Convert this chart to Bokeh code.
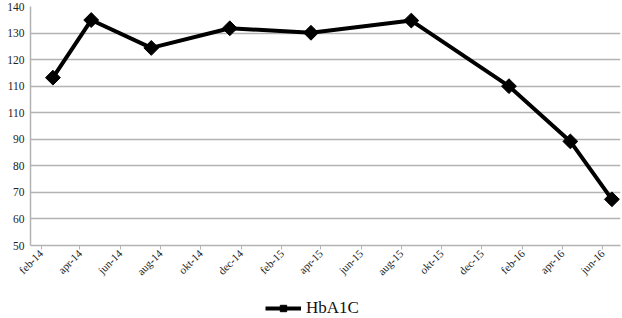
import numpy as np
import pandas as pd
from bokeh.plotting import figure
from bokeh.layouts import column
from bokeh.models import FixedTicker, Legend, LegendItem, Range1d
from bokeh.embed import file_html
from bokeh.resources import INLINE

# ---- data ----
dates = ["2014-02-19", "2014-04-18", "2014-07-18", "2014-11-14", "2015-03-17",
         "2015-08-16", "2016-01-11", "2016-04-13", "2016-06-15"]
hba1c = [113.2, 134.9, 124.4, 131.8, 130.1, 134.7, 110.0, 89.2, 67.4]
series_name = "HbA1C"

x_tick_dates = ["2014-02-01", "2014-04-01", "2014-06-01", "2014-08-01", "2014-10-01",
                "2014-12-01", "2015-02-01", "2015-04-01", "2015-06-01", "2015-08-01",
                "2015-10-01", "2015-12-01", "2016-02-01", "2016-04-01", "2016-06-01"]
x_tick_labels = ["feb-14", "apr-14", "jun-14", "aug-14", "okt-14", "dec-14", "feb-15",
                 "apr-15", "jun-15", "aug-15", "okt-15", "dec-15", "feb-16", "apr-16", "jun-16"]
y_ticks = [50, 60, 70, 80, 90, 100, 110, 120, 130, 140]
y_tick_labels = ["50", "60", "70", "80", "90", "110", "110", "120", "130", "140"]

x_start, x_end = "2014-01-16", "2016-06-28"
y_min, y_max = 50, 140

def ms(s):
    return float(pd.Timestamp(s).value // 10**6)

xs = [ms(d) for d in dates]
xt = [ms(d) for d in x_tick_dates]

FONT = "Liberation Serif"
GRID = "#b3b3b3"
LINE_W, MARK_SIZE = 4, 10.5

# ---------------- main chart ----------------
p = figure(width=622, height=295, x_axis_type="datetime",
           output_backend="svg", toolbar_location=None,
           min_border_left=30, min_border_right=2, min_border_top=6, min_border_bottom=50,
           x_range=Range1d(ms(x_start), ms(x_end)), y_range=Range1d(y_min, y_max))
p.outline_line_color = None
p.background_fill_color = "white"
p.border_fill_color = "white"

p.line(xs, hba1c, line_color="black", line_width=LINE_W, line_join="round")
p.scatter(xs, hba1c, marker="square", angle=np.pi / 4, size=MARK_SIZE,
          fill_color="black", line_color="black")

xa = p.xaxis[0]
xa.ticker = FixedTicker(ticks=xt)
xa.major_label_overrides = {t: l for t, l in zip(xt, x_tick_labels)}
xa.major_label_orientation = np.pi / 4
xa.major_tick_in = 0
xa.major_tick_out = 4
xa.minor_tick_out = 0
xa.minor_tick_in = 0
xa.axis_line_color = GRID
xa.axis_line_width = 1.5
xa.major_tick_line_color = GRID
xa.major_label_text_font = FONT
xa.major_label_text_font_size = "11px"
xa.major_label_text_color = "#222222"
xa.major_label_standoff = 2

ya = p.yaxis[0]
ya.ticker = FixedTicker(ticks=y_ticks)
ya.major_label_overrides = {t: l for t, l in zip(y_ticks, y_tick_labels)}
ya.major_tick_in = 0
ya.major_tick_out = 0
ya.minor_tick_out = 0
ya.minor_tick_in = 0
ya.axis_line_color = GRID
ya.axis_line_width = 1.5
ya.major_label_text_font = FONT
ya.major_label_text_font_size = "11.5px"
ya.major_label_text_color = "#222222"
ya.major_label_standoff = 6

p.xgrid.grid_line_color = None
p.ygrid.grid_line_color = GRID
p.ygrid.grid_line_width = 1.5

# ---------------- legend strip ----------------
# same series drawn in a strip whose ranges keep the marks off-view; only the legend shows
p2 = figure(width=622, height=23, output_backend="svg", toolbar_location=None,
            min_border=0, x_axis_location=None, y_axis_location=None,
            x_range=Range1d(0, 1), y_range=Range1d(0, 1))
p2.outline_line_color = None
p2.xgrid.grid_line_color = None
p2.ygrid.grid_line_color = None
p2.border_fill_color = "white"
p2.background_fill_color = "white"
l_line = p2.line(xs, hba1c, line_color="black", line_width=LINE_W)
l_pts = p2.scatter(xs, hba1c, marker="square", angle=np.pi / 4, size=MARK_SIZE,
                   fill_color="black", line_color="black")
legend = Legend(items=[LegendItem(label=series_name, renderers=[l_line, l_pts], index=0)],
                orientation="horizontal", location=(235, 0),
                label_text_font=FONT, label_text_font_size="17px",
                label_text_color="#111111",
                glyph_width=36, glyph_height=16, padding=1, margin=0,
                border_line_color=None, background_fill_alpha=0)
p2.add_layout(legend)

layout = column(p, p2, spacing=0)
open("out.html", "w").write(file_html(layout, INLINE))
